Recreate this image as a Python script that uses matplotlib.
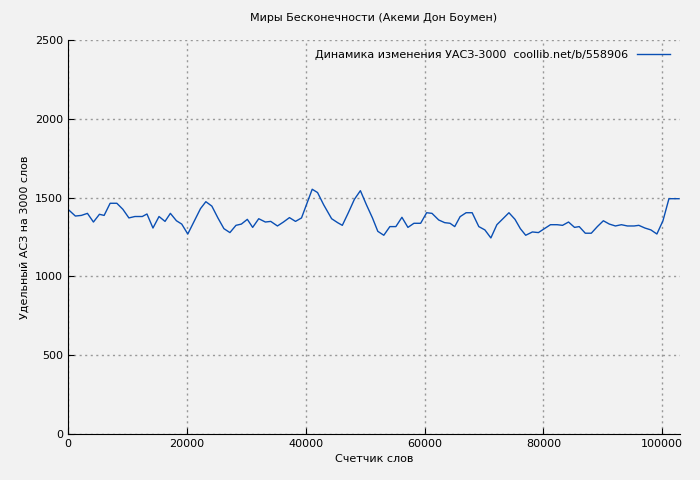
import matplotlib
matplotlib.use("Agg")
import matplotlib.pyplot as plt

words = [0,1240,2250,3270,4280,5290,6080,7090,8220,9230,10250,11260,12500,13290,14300,15320,16330,17230,18250,19140,20160,21170,22300,23200,24210,25230,26240,27250,28270,29180,30180,31080,32100,33220,34120,35250,36260,37270,38290,39300,41100,42000,43020,44370,45380,46170,47180,48200,49210,50220,51240,52140,53150,54170,55180,56200,57210,58220,59350,60360,61260,62390,63400,64300,65090,65990,67000,68020,69140,70160,71170,72180,73200,74210,75230,76130,77030,78160,79170,80180,81200,82320,83230,84240,85250,86040,87060,88070,89090,90100,91110,92130,93140,94150,95280,96070,97090,98100,99110,100130,101140,102830]
values = [1426,1383,1387,1400,1345,1394,1387,1464,1464,1426,1371,1380,1380,1396,1307,1380,1349,1400,1353,1332,1269,1345,1430,1474,1446,1371,1303,1278,1324,1332,1362,1311,1366,1345,1349,1320,1345,1373,1349,1371,1553,1532,1455,1366,1341,1324,1404,1489,1544,1455,1371,1286,1261,1316,1316,1375,1311,1337,1337,1404,1400,1358,1341,1337,1316,1379,1404,1404,1316,1295,1244,1328,1366,1404,1362,1303,1261,1282,1278,1303,1328,1328,1324,1345,1311,1316,1274,1274,1316,1353,1332,1320,1328,1320,1320,1324,1307,1295,1269,1353,1493,1493]

bg = "#f2f2f2"
fig = plt.figure(figsize=(7, 4.8), dpi=100, facecolor=bg)
ax = fig.add_axes([68/700, 46/480, 612/700, 394/480], facecolor=bg)
ax.plot(words, values, color="#0a4fb4", lw=1, label="Динамика изменения УАСЗ-3000  coollib.net/b/558906")
ax.set_xlim(0, 103000)
ax.set_ylim(0, 2500)
ax.set_xticks([0, 20000, 40000, 60000, 80000, 100000])
ax.set_yticks([0, 500, 1000, 1500, 2000, 2500])
ax.grid(True, color="#999999", ls=(0, (1.5, 2.5)), lw=1)
ax.tick_params(labelsize=8, direction="in", length=4)
for s in ["top", "right"]:
    ax.spines[s].set_visible(False)
ax.set_title("Миры Бесконечности (Акеми Дон Боумен)", fontsize=8, pad=14)
ax.set_xlabel("Счетчик слов", fontsize=8)
ax.set_ylabel("Удельный АСЗ на 3000 слов", fontsize=8)
leg = ax.legend(loc="upper right", frameon=False, fontsize=8, markerfirst=False, handlelength=3)
fig.savefig("out.png", facecolor=bg)
